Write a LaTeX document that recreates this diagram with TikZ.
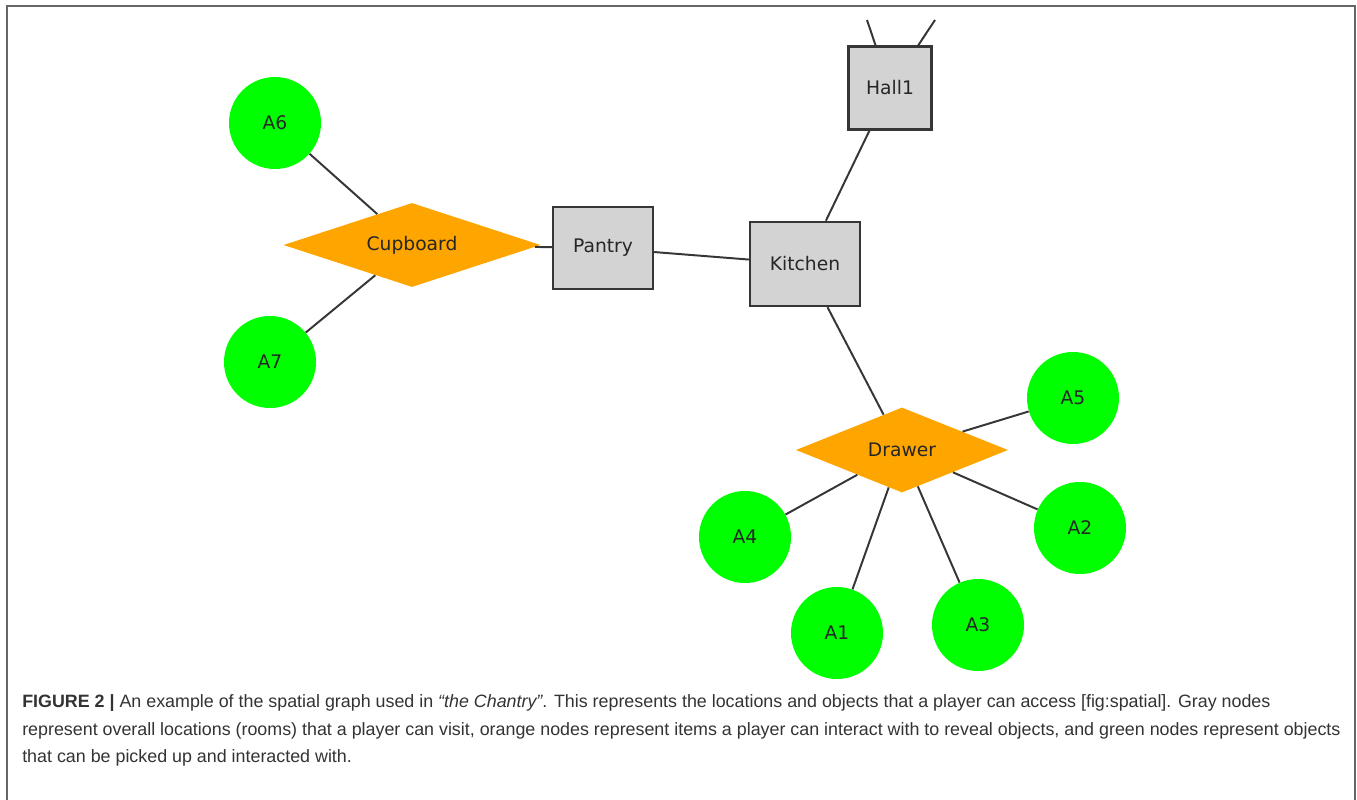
\documentclass[tikz,border=0pt]{standalone}
\usepackage{fontspec}
\setmainfont{Liberation Sans}
\newfontfamily\labelfont{DejaVu Sans}
\usetikzlibrary{shapes.geometric, positioning, calc}
\definecolor{roomgray}{HTML}{D3D3D3}
\definecolor{itemorange}{HTML}{FFA500}
\definecolor{objgreen}{HTML}{00FF00}
\definecolor{edgegray}{HTML}{363636}
\definecolor{captiongray}{HTML}{333333}
\tikzstyle{link} = [line width=1.4pt, draw=edgegray]
\tikzstyle{room} = [rectangle, draw=edgegray, line width=1.7pt, fill=roomgray, text centered, text=black!85]
\tikzstyle{item} = [diamond, fill=itemorange, inner sep=0pt, aspect=3, text centered, text=black!85]

\begin{document}
\begin{tikzpicture}[x=0.025cm, y=-0.025cm,
        object/.style={circle, minimum size=2.3cm, inner sep=0pt, fill=objgreen, text centered, text=black!85},
        captionline/.style={anchor=base west, inner sep=0pt, text=captiongray, font=\fontsize{12.7}{15}\selectfont},
        every node/.style={font=\labelfont\fontsize{13.3}{16}\selectfont}]
    \useasboundingbox (0,0) rectangle (1357,800);
    \draw[line width=1.2pt, draw=black!60] (7,830) -- (7,6) -- (1355,6) -- (1355,830);

    % rooms
    \node [room, minimum width=2.5cm, minimum height=2.05cm] (pantry) at (603,248) {Pantry};
    \node [room, minimum width=2.75cm, minimum height=2.1cm] (kitchen) at (805,264) {Kitchen};
    \node [room, minimum width=2.075cm, minimum height=2.075cm] (hall) at (890,88) {Hall1};
    \coordinate (hallnw) at (867,20);
    \coordinate (hallne) at (935,20);

    % items
    \node [item, minimum width=6.425cm, minimum height=2.1cm] (cupboard) at (412,245) {Cupboard};
    \node [item, minimum width=5.3cm, minimum height=2.125cm] (drawer) at (902,450) {Drawer};

    % objects
    \node [object] (a6) at (275,123) {A6};
    \node [object] (a7) at (270,362) {A7};
    \node [object] (a5) at (1073,398) {A5};
    \node [object] (a2) at (1080,528) {A2};
    \node [object] (a3) at (978,625) {A3};
    \node [object] (a1) at (837,633) {A1};
    \node [object] (a4) at (745,537) {A4};

    \draw[link] (a6) -- (cupboard);
    \draw[link] (a7) -- (cupboard);
    \draw[link] (cupboard) -- (pantry);
    \draw[link] (pantry) -- (kitchen);
    \draw[link] (kitchen) -- (hall);
    \draw[link] (hall) -- (hallnw);
    \draw[link] (hall) -- (hallne);
    \draw[link] (kitchen) -- (drawer);
    \draw[link] (drawer) -- (a5);
    \draw[link] (drawer) -- (a2);
    \draw[link] (drawer) -- (a3);
    \draw[link] (drawer) -- (a1);
    \draw[link] (drawer) -- (a4);

    % caption
    \node [captionline] (caption1) at (22,707) {\textbf{FIGURE 2 |} An example of the spatial graph used in \textit{“the Chantry”}. This represents the locations and objects that a player can access [fig:spatial]. Gray nodes};
    \node [captionline] (caption2) at (22,735) {represent overall locations (rooms) that a player can visit, orange nodes represent items a player can interact with to reveal objects, and green nodes represent objects};
    \node [captionline] (caption3) at (22,762) {that can be picked up and interacted with.};
\end{tikzpicture}
\end{document}
